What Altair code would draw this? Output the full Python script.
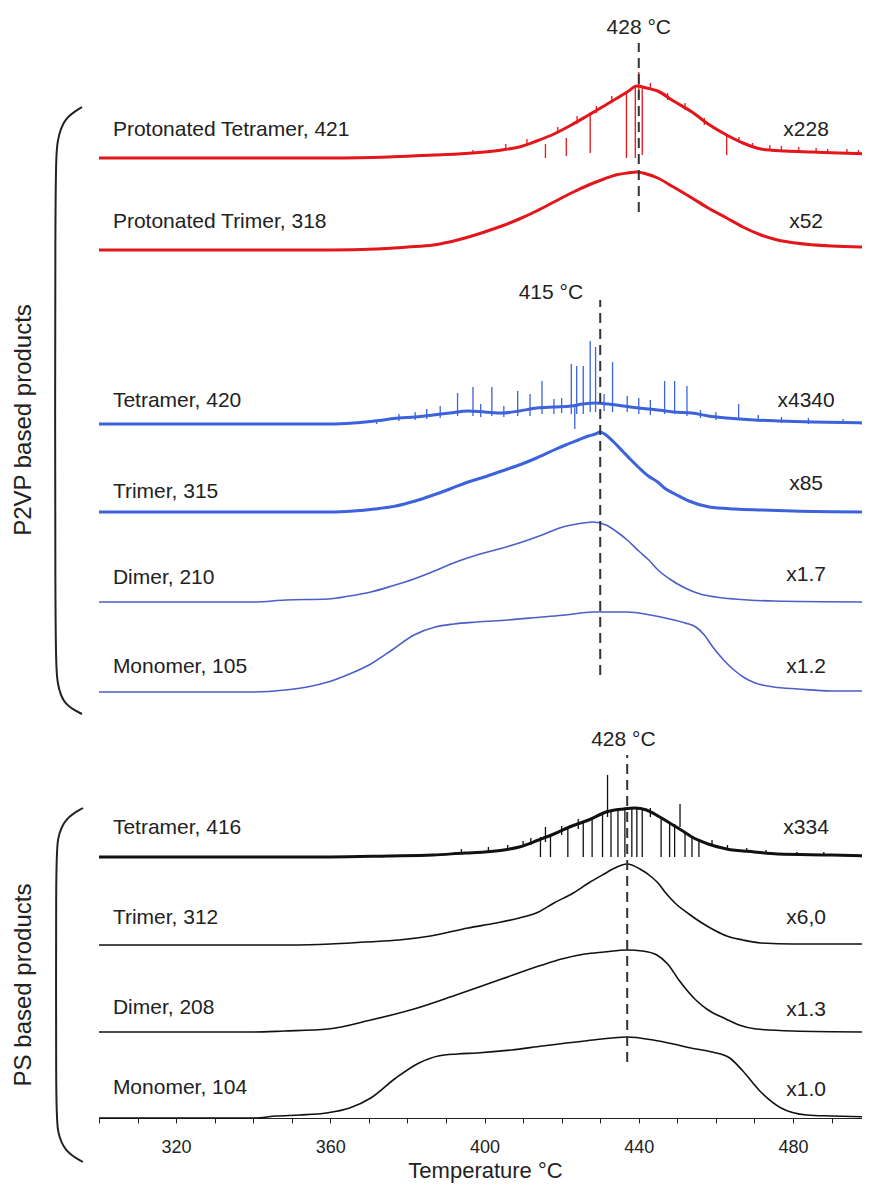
import altair as alt
import pandas as pd

# ---------------- data ----------------
KEYS = ["pTet", "pTri", "vTet", "vTri", "vDi", "vMon", "sTet", "sTri", "sDi", "sMon"]
LEFT_LABELS = ["Protonated Tetramer, 421", "Protonated Trimer, 318", "Tetramer, 420", "Trimer, 315",
               "Dimer, 210", "Monomer, 105", "Tetramer, 416", "Trimer, 312", "Dimer, 208", "Monomer, 104"]
RIGHT_LABELS = ["x228", "x52", "x4340", "x85", "x1.7", "x1.2", "x334", "x6,0", "x1.3", "x1.0"]
GROUP = ["red", "red", "blue", "blue", "blue2", "blue2", "black", "black", "black", "black"]

# temperatures (°C) and intensities (arb. units) of each trace
pTet_T = [300, 360, 375, 386.7, 393, 400, 404.5, 409, 413.5, 418, 422.5, 427, 431, 434, 437, 439.5, 442, 444.9, 449, 453.8, 458, 462.8, 467, 471.7, 478, 485, 492, 500]
pTet_v = [0, 0, 1, 3, 4, 6, 8, 11, 17, 24, 33, 43, 52, 59, 66, 72, 70, 67, 57, 46, 34, 23, 15, 9, 7, 6, 5, 4]
pTri_T = [300, 360, 372, 380, 386.7, 393, 400, 404.5, 409, 413.5, 418, 422.5, 427, 431, 434, 437, 439.5, 442, 444.9, 449, 453.8, 458, 462.8, 467, 471.7, 476, 480.7, 490, 500]
pTri_v = [0, 0, 1, 3, 5, 10, 18, 24, 31, 39, 48, 57, 65, 71, 75, 77, 78, 76, 72, 63, 52, 42, 32, 23, 15, 10, 7, 4, 3]
vTet_T = [300, 360, 366, 371.5, 377.8, 382, 386.7, 391, 395.7, 400, 404.6, 409, 413.6, 418, 422.5, 425.5, 428.8, 432, 436, 440, 444.9, 449, 453.8, 458, 462.8, 470, 476.2, 485, 500]
vTet_v = [0, 0, 1, 3, 6, 7, 9, 11, 13, 12, 11, 13, 16, 17, 18, 20, 21, 20, 18, 16, 14, 12, 11, 8, 6, 4, 3, 2, 1]
vTri_T = [300, 360, 366, 371.5, 377, 382, 386, 391, 395, 400, 404.5, 409, 413.5, 418, 421, 424.3, 427, 428.8, 430, 431.5, 433.5, 436, 438, 440.4, 442.5, 444.9, 447, 449.4, 453, 458.3, 465, 471.7, 480, 500]
vTri_v = [0, 0, 1, 3, 6, 11, 16, 23, 29, 35, 41, 47, 54, 62, 67, 72, 76, 78, 80, 77, 70, 60, 52, 43, 36, 30, 23, 18, 11, 5, 3, 2, 1, 0]
vDi_T = [300, 340, 348.4, 359.4, 365, 370.5, 376, 381.7, 387, 392.6, 398, 403.7, 409, 414.9, 420.3, 424, 428.1, 431.5, 434, 437, 440, 442.6, 445, 448, 452, 455.9, 460, 464.7, 475, 500]
vDi_v = [0, 0, 2, 3, 6, 10, 16, 23, 31, 40, 47, 53, 59, 67, 75, 78, 80, 77, 71, 62, 51, 42, 32, 23, 14, 8, 5, 3, 1, 0]
vMon_T = [300, 340, 348.4, 354, 359.4, 365, 370.5, 376, 381.7, 387.2, 392, 398, 406, 414.9, 421, 428, 437, 443, 448, 452, 454.8, 457, 459.2, 462, 464.7, 467.5, 470.2, 475, 481.3, 490, 500]
vMon_v = [0, 0, 2, 5, 10, 18, 28, 42, 57, 65, 68, 70, 72, 75, 77, 80, 80, 77, 73, 69, 65, 57, 45, 32, 22, 14, 9, 5, 3, 1, 1]
sTet_T = [300, 360, 375, 386.6, 395, 400, 405, 409, 414, 418, 422, 427, 431.5, 436, 439, 442, 445, 447.6, 451, 453.8, 458, 462.8, 470, 476, 490, 500]
sTet_v = [0, 0, 1, 2, 4, 5, 7, 10, 17, 23, 30, 37, 45, 48, 49, 47, 41, 35, 27, 20, 13, 8, 5, 3, 2, 1]
sTri_T = [300, 350, 360, 369, 377.8, 386, 395.7, 403, 409, 414, 418, 423, 427, 431, 433.3, 437, 440.3, 443, 445, 447, 449.4, 453, 456.4, 460, 462.8, 467, 471.7, 480, 500]
sTri_v = [0, 0, 1, 3, 5, 9, 17, 22, 27, 33, 42, 52, 62, 71, 76, 81, 76, 69, 62, 52, 42, 31, 22, 14, 9, 5, 2, 1, 1]
sDi_T = [300, 340, 348, 359.4, 370.5, 381.7, 392.6, 403.7, 414.9, 420, 426, 431, 437, 441, 444.7, 447.5, 450.4, 454.8, 458, 462.6, 466, 470.4, 480, 500]
sDi_v = [0, 0, 1, 3, 12, 23, 37, 52, 67, 73, 78, 80, 82, 81, 77, 68, 52, 32, 22, 13, 7, 3, 1, 0]
sMon_T = [300, 340, 346, 352, 359, 365, 370.5, 377, 383, 388, 393, 398, 407, 415, 426, 437, 443.7, 449, 453.5, 459, 463.6, 467, 471.4, 476.9, 483.6, 490, 500]
sMon_v = [0, 0, 2, 3, 5, 10, 20, 40, 55, 62, 64, 65, 68, 72, 77, 81, 78, 74, 70, 66, 60, 47, 27, 10, 3, 2, 1]

# sharp spikes and noise: temperature, low and high intensity
pTet_spk_T = [397, 405.5, 411, 415.8, 419, 421.2, 424, 427.4, 429, 433, 436.8, 439.1, 440.0, 440.9, 443, 447.5, 452, 457, 462.8, 466, 469.5, 474, 477, 481.5, 486, 489, 494, 497]
pTet_spk_lo = [4, 8, 13, 0, 25, 2, 34, 5, 45, 55, 0, 0, 60, 3, 68, 58, 48, 33, 3, 15, 10, 8, 7, 6, 6, 5, 5, 4]
pTet_spk_hi = [8, 14, 19, 14, 31, 20, 42, 45, 52, 62, 65, 72, 86, 70, 75, 65, 55, 40, 23, 21, 15, 13, 12, 11, 10, 9, 9, 8]
vTet_spk_T = [372, 377.8, 382, 385.0, 388.5, 393.0, 397.0, 399, 401.9, 405, 408.6, 411.8, 414.9, 418.0, 420, 422.5, 423.4, 423.9, 425.6, 427.4, 428.8, 431, 433.2, 437, 440, 443, 446.7, 449.3, 452.5, 456, 460, 465.9, 471, 477, 484, 493]
vTet_spk_lo = [0, 3, 4, 5, 6, 8, 8, 7, 8, 7, 8, 8, 10, 10, 11, 10, -5, 10, 10, 12, 12, 13, 12, 12, 10, 9, 10, 10, 8, 6, 4, 4, 2, 1, 0, 0]
vTet_spk_hi = [4, 10, 12, 15, 18, 31, 37, 20, 37, 18, 33, 30, 43, 25, 26, 60, 20, 58, 58, 83, 77, 30, 62, 28, 26, 24, 43, 43, 38, 14, 12, 20, 9, 7, 6, 5]
sTet_spk_T = [394, 401, 406, 410, 412, 414.5, 415.8, 417.1, 420, 421.6, 424.3, 425.6, 427.9, 430.6, 431.9, 432.8, 434.6, 436.4, 438.2, 439.5, 440.9, 443, 445.8, 448.0, 449.3, 450.7, 452.0, 453.8, 455.6, 459, 463, 468, 473, 481, 488]
sTet_spk_lo = [4, 5, 7, 10, 12, 0, 15, 0, 22, 0, 28, 0, 0, 0, 40, 0, 0, 0, 0, 0, 0, 40, 0, 0, 0, 30, 0, 0, 0, 12, 8, 6, 4, 2, 2]
sTet_spk_hi = [8, 10, 12, 16, 19, 20, 30, 23, 31, 28, 38, 34, 38, 44, 82, 46, 48, 48, 48, 49, 47, 49, 40, 35, 33, 53, 25, 20, 17, 17, 12, 9, 7, 5, 5]

# ---------------- layout (positions in the chart's y units) ----------------
OFFSET = [960, 868, 694, 606, 516, 426, 261, 173, 86, 0]
LEFT_Y = [988, 896, 717, 626, 540, 451, 290, 200, 110, 30]
RIGHT_Y = [988, 896, 717, 634, 543, 451, 290, 200, 108, 28]
NOISY = ["pTet", "pTri", "vTet", "vTri", "sTet"]
COLORS = {"red": "#e3161c", "blue": "#3c62dc", "blue2": "#4a5fc8", "black": "#111111"}

curves = {
    "pTet": (pTet_T, pTet_v), "pTri": (pTri_T, pTri_v), "vTet": (vTet_T, vTet_v),
    "vTri": (vTri_T, vTri_v), "vDi": (vDi_T, vDi_v), "vMon": (vMon_T, vMon_v),
    "sTet": (sTet_T, sTet_v), "sTri": (sTri_T, sTri_v), "sDi": (sDi_T, sDi_v), "sMon": (sMon_T, sMon_v),
}
spikes = {
    "pTet": (pTet_spk_T, pTet_spk_lo, pTet_spk_hi),
    "vTet": (vTet_spk_T, vTet_spk_lo, vTet_spk_hi),
    "sTet": (sTet_spk_T, sTet_spk_lo, sTet_spk_hi),
}

rows = []
for i, k in enumerate(KEYS):
    T, v = curves[k]
    for j, (t, val) in enumerate(zip(T, v)):
        rows.append({"key": k, "grp": GROUP[i], "T": t, "y": OFFSET[i] + val, "ord": j,
                     "noisy": k in NOISY})
lines = pd.DataFrame(rows)

srows = []
for i, k in enumerate(KEYS):
    if k in spikes:
        T, lo, hi = spikes[k]
        for t, a, b in zip(T, lo, hi):
            srows.append({"key": k, "grp": GROUP[i], "T": t, "y": OFFSET[i] + a, "y2": OFFSET[i] + b})
spk = pd.DataFrame(srows)

labels = pd.DataFrame({"txt": LEFT_LABELS, "y": LEFT_Y, "T": [303.6] * 10})
rlabels = pd.DataFrame({"txt": RIGHT_LABELS, "y": RIGHT_Y, "T": [483.4] * 10})

dash = pd.DataFrame({"T": [440, 430, 437], "y": [906, 443, 56], "y2": [1075, 818, 363]})
dlab = pd.DataFrame({"txt": ["428 °C", "415 °C", "428 °C"], "T": [440, 417.2, 436], "y": [1090, 825, 378]})

grp_lab = pd.DataFrame({"txt": ["P2VP based products", "PS based products"], "T": [280.5, 280.5], "y": [698, 133]})

br_rows = []
b1_T = [295.6, 290.9, 289.1, 288.6, 288.6, 289.1, 290.9, 295.6]
b1_y = [1011, 1000, 978, 948, 468, 433, 413, 404]
b2_T = [295.85, 291.2, 289.1, 288.85, 288.85, 289.1, 291.2, 295.85]
b2_y = [310, 300, 280, 253, 13, -14, -34, -44]
for name, TT, YY in (("b1", b1_T, b1_y), ("b2", b2_T, b2_y)):
    for j, (t, y) in enumerate(zip(TT, YY)):
        br_rows.append({"b": name, "T": t, "y": y, "ord": j})
brackets = pd.DataFrame(br_rows)

# ---------------- chart ----------------
FONT = "Liberation Sans"
# 763 px for 300..497.9 °C keeps 3.855 px per °C and the page free of horizontal overflow
xs = alt.Scale(domain=[300, 497.9], nice=False, zero=False)
ys = alt.Scale(domain=[0, 1110], nice=False, zero=False)
cscale = alt.Scale(domain=list(COLORS.keys()), range=list(COLORS.values()))

xaxis = alt.Axis(
    values=list(range(300, 500, 10)),
    labelExpr="(datum.value % 40 == 0 && datum.value > 300 && datum.value < 500) ? datum.label : ''",
    title="Temperature °C", titleFont=FONT, titleFontSize=22, titleFontWeight="normal",
    titleColor="#222", titleX=386, titleY=59, titleBaseline="alphabetic",
    labelFont=FONT, labelFontSize=18, labelColor="#222",
    labelPadding=15, tickSize=5, tickColor="#222", domainColor="#222", grid=False,
    labelFlush=False,
)
X = alt.X("T:Q", scale=xs, axis=xaxis)
Y = alt.Y("y:Q", scale=ys, axis=None)
C = alt.Color("grp:N", scale=cscale, legend=None)

smooth = alt.Chart(lines).transform_filter("!datum.noisy").mark_line(strokeWidth=1.6, interpolate="monotone").encode(
    x=X, y=Y, detail="key:N", order="ord:Q", color=C)
noisy = alt.Chart(lines).transform_filter("datum.noisy").mark_line(strokeWidth=3, interpolate="monotone").encode(
    x=X, y=Y, detail="key:N", order="ord:Q", color=C)
spike = alt.Chart(spk).mark_rule(strokeWidth=1.3).encode(x=X, y=Y, y2="y2:Q", color=C)

dashed = alt.Chart(dash).mark_rule(strokeDash=[10, 6], strokeWidth=2, color="#333").encode(x=X, y=Y, y2="y2:Q")
dtext = alt.Chart(dlab).mark_text(font=FONT, fontSize=21, color="#222", align="center", baseline="middle").encode(
    x=X, y=Y, text="txt:N")
ltext = alt.Chart(labels).mark_text(font=FONT, fontSize=21, color="#222", align="left", baseline="middle").encode(
    x=X, y=Y, text="txt:N")
rtext = alt.Chart(rlabels).mark_text(font=FONT, fontSize=21, color="#222", align="center", baseline="middle").encode(
    x=X, y=Y, text="txt:N")
gtext = alt.Chart(grp_lab).mark_text(font=FONT, fontSize=24, color="#222", align="center", baseline="middle",
                                     angle=270).encode(x=X, y=Y, text="txt:N")
br = alt.Chart(brackets).mark_line(interpolate="basis", strokeWidth=2, color="#222").encode(
    x=X, y=Y, detail="b:N", order="ord:Q")

chart = alt.layer(smooth, noisy, spike, dashed, dtext, ltext, rtext, gtext, br).properties(
    width=763, height=1110,
    autosize=alt.AutoSizeParams(type="none"),
    padding={"left": 91, "top": 0, "right": 0, "bottom": 65},
    background="white",
).configure_view(stroke=None)

chart.save("out.html", embed_options={"renderer": "svg", "actions": False})
